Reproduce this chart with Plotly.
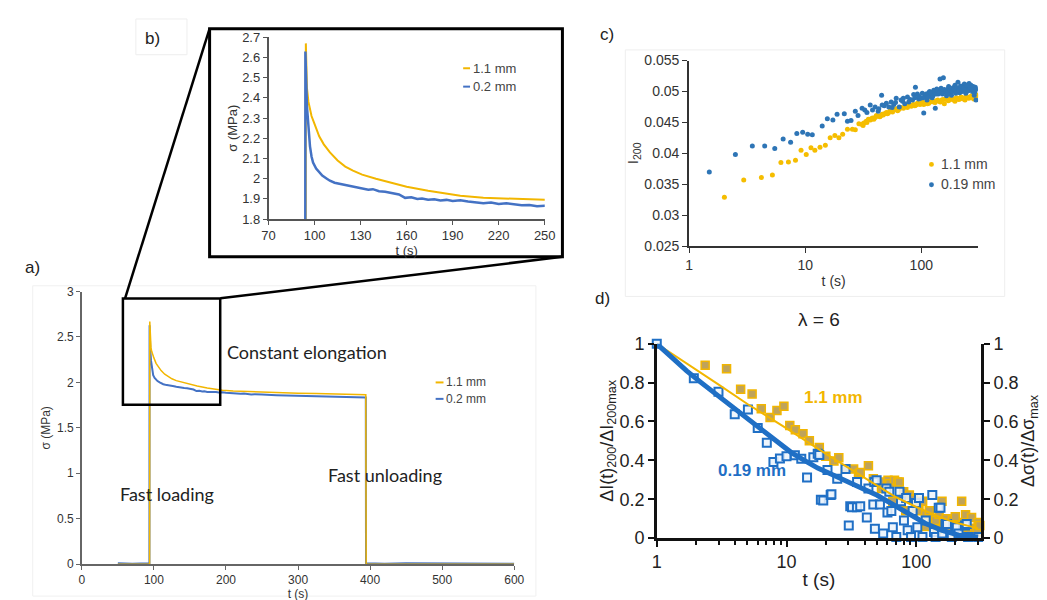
import plotly.graph_objects as go

W, H = 1047, 600

# ---------------- data ----------------
# a) / b) stress relaxation, sigma (MPa) vs t (s)
t_11mm = [50, 70, 94, 94.3, 95, 96, 97, 98, 100, 103, 106, 110, 115, 120, 125, 131, 140,
          152, 160, 174, 185, 195, 210, 225, 240, 250, 275, 300, 325, 350, 375, 394,
          394.5, 420, 450, 500, 550, 600]
s_11mm = [0, 0, 0, 2.67, 2.45, 2.38, 2.34, 2.31, 2.27, 2.21, 2.17, 2.13, 2.09, 2.06, 2.04,
          2.02, 2.0, 1.975, 1.96, 1.94, 1.925, 1.915, 1.905, 1.9, 1.895, 1.89, 1.885, 1.88,
          1.877, 1.873, 1.868, 1.865, 0, 0, 0, 0, 0, 0]

t_02mm = [50, 70, 93.8, 94, 95, 96, 97, 98, 99, 101, 103, 105, 108, 110, 113, 116, 120, 124,
          128, 131, 135, 138, 142, 146, 150, 152, 155, 159, 163, 167, 170, 174, 178, 182,
          186, 190, 195, 200, 205, 210, 215, 220, 225, 230, 235, 240, 245, 250, 270, 290,
          310, 330, 350, 370, 394, 394.3, 420, 450, 500, 550, 600]
s_02mm = [0.01, 0.005, 0.01, 2.63, 2.36, 2.24, 2.16, 2.11, 2.08, 2.05, 2.03, 2.015, 2.0,
          1.99, 1.98, 1.975, 1.972, 1.962, 1.958, 1.952, 1.945, 1.948, 1.938, 1.935, 1.93,
          1.928, 1.922, 1.905, 1.908, 1.9, 1.902, 1.896, 1.898, 1.892, 1.895, 1.89, 1.893,
          1.887, 1.884, 1.878, 1.882, 1.875, 1.878, 1.872, 1.868, 1.87, 1.864, 1.866, 1.86,
          1.857, 1.853, 1.85, 1.846, 1.842, 1.835, 0.01, 0.005, 0.01, 0.008, 0.01, 0.005]

# c) I200 vs t (s)
c_t_11 = [2.01, 2.95, 4.19, 5.21, 6.17, 7.16, 8.24, 9.2, 10.2, 11.2, 12.1, 13.4, 14.9, 16.4,
          18.0, 19.5, 21.0, 23.1, 25.5, 27.0, 29.0, 30.5, 32, 33.5, 35, 36.5, 38, 40, 42,
          44, 46, 48, 50, 52, 55, 58, 61, 64, 67, 70, 74, 78, 82, 86, 90, 95, 100, 105, 110,
          116, 122, 128, 135, 142, 150, 158, 166, 175, 185, 195, 205, 215, 226, 238, 250,
          263, 276, 290, 300,
          31.5, 34, 37, 39, 41, 45, 47, 51, 53.5, 56.5, 59.5, 62.5, 65.5, 72, 76, 80, 84, 88,
          92.5, 97.5, 102.5, 107.5, 113, 119, 125, 131.5, 138.5, 146, 154, 162, 170.5, 180,
          190, 200, 210, 220, 232, 244, 256, 270, 283, 295]
c_i_11 = [0.0329, 0.0357, 0.0361, 0.0365, 0.0385, 0.0386, 0.0389, 0.0405, 0.0398, 0.0409,
          0.0405, 0.0410, 0.0413, 0.0425, 0.0429, 0.0425, 0.0431, 0.0439, 0.0439, 0.0438,
          0.0448, 0.0447, 0.0449, 0.0452, 0.0455, 0.0454, 0.0457, 0.0458, 0.0460, 0.0459,
          0.0463, 0.0464, 0.0466, 0.0465, 0.0469, 0.0470, 0.0472, 0.0471, 0.0474, 0.0473,
          0.0476, 0.0477, 0.0476, 0.0479, 0.0478, 0.0480, 0.0481, 0.0479, 0.0482, 0.0481,
          0.0484, 0.0483, 0.0485, 0.0484, 0.0486, 0.0480, 0.0487, 0.0486, 0.0488, 0.0484,
          0.0489, 0.0488, 0.0490, 0.0486, 0.0491, 0.0490, 0.0492, 0.0491, 0.0493,
          0.0445, 0.0450, 0.0456, 0.0455, 0.0461, 0.0461, 0.0462, 0.0464, 0.0468, 0.0467,
          0.0471, 0.0469, 0.0473, 0.0475, 0.0474, 0.0478, 0.0478, 0.0477, 0.0481, 0.0479,
          0.0483, 0.0481, 0.0480, 0.0483, 0.0485, 0.0482, 0.0486, 0.0483, 0.0487, 0.0488,
          0.0485, 0.0489, 0.0486, 0.0490, 0.0487, 0.0491, 0.0488, 0.0492, 0.0489, 0.0493,
          0.0488, 0.0495]

c_t_019 = [1.49, 2.5, 3.5, 4.47, 5.46, 6.45, 7.48, 8.46, 9.5, 10.5, 11.5, 14.0, 15.5, 17.3,
           18.8, 21.7, 23.1, 24.8, 27.0, 28.5, 30.9, 32.6, 34.0, 36.3, 38.0, 40.0, 42.5,
           45.5, 48.0, 50.0, 52.5, 55.0, 58.0, 60.8, 64.6, 67.0, 69.0, 72.0, 76.0, 80.0,
           84.0, 86.0, 89.0, 92.5, 95.0, 98.6, 102, 105, 108, 112, 116, 120, 124, 128, 132,
           136, 140, 145, 150, 155, 160, 165, 170, 175, 182, 188, 195, 200, 207, 214, 221,
           228, 235, 242, 251, 258, 268, 276, 286, 292, 296,
           104, 110, 114, 118, 122, 126, 130, 134, 138, 143, 148, 152, 158, 163, 168, 172,
           178, 185, 192, 198, 204, 211, 218, 225, 232, 239, 246, 254, 262, 272, 280, 289,
           294, 60, 70, 78, 88, 96, 56, 46, 43]
c_i_019 = [0.0370, 0.0398, 0.0412, 0.0412, 0.0408, 0.0423, 0.0418, 0.0432, 0.0434, 0.0431,
           0.0430, 0.0444, 0.0456, 0.0454, 0.0463, 0.0464, 0.0452, 0.0453, 0.0468, 0.0461,
           0.0473, 0.0470, 0.0466, 0.0478, 0.0470, 0.0475, 0.0468, 0.0494, 0.0477, 0.0481,
           0.0475, 0.0483, 0.0479, 0.0489, 0.0475, 0.0486, 0.0484, 0.0480, 0.0491, 0.0487,
           0.0486, 0.0495, 0.0507, 0.0496, 0.0488, 0.0489, 0.0497, 0.0465, 0.0492, 0.0486,
           0.0498, 0.0494, 0.0490, 0.0502, 0.0473, 0.0504, 0.0496, 0.0520, 0.0500, 0.0522,
           0.0499, 0.0493, 0.0504, 0.0497, 0.0494, 0.0506, 0.0510, 0.0500, 0.0515, 0.0498,
           0.0502, 0.0508, 0.0512, 0.0497, 0.0504, 0.0513, 0.0510, 0.0500, 0.0494, 0.0507,
           0.0486,
           0.0490, 0.0496, 0.0491, 0.0500, 0.0497, 0.0493, 0.0499, 0.0496, 0.0501, 0.0498,
           0.0505, 0.0496, 0.0503, 0.0500, 0.0497, 0.0508, 0.0502, 0.0500, 0.0504, 0.0497,
           0.0506, 0.0502, 0.0509, 0.0500, 0.0506, 0.0503, 0.0510, 0.0501, 0.0506, 0.0503,
           0.0508, 0.0499, 0.0503, 0.0482, 0.0489, 0.0483, 0.0490, 0.0492, 0.0474, 0.0478,
           0.0472]

# d) normalised I200 (squares) and normalised stress (lines)
d_t_11 = [2.36, 3.45, 4.43, 5.43, 6.39, 7.47, 8.44, 9.55, 10.6, 11.7, 13.4, 15.0, 17.9, 20.1,
          23.2, 25.3, 28.5, 32.9, 35.9, 37.0, 42.8, 46.7, 49.5, 52.5, 54, 60.6, 62.4, 66,
          68, 72, 74, 80, 83, 88.5, 95, 100, 105, 112, 118, 120, 126, 132, 141, 145, 150,
          158, 165, 170, 178, 190, 200, 205, 213, 224, 235, 240, 250, 260, 267, 282, 295,
          300, 309]
d_r_11 = [0.889, 0.872, 0.766, 0.741, 0.665, 0.620, 0.657, 0.678, 0.579, 0.557, 0.537, 0.501,
          0.466, 0.421, 0.397, 0.413, 0.355, 0.355, 0.330, 0.338, 0.372, 0.305, 0.289, 0.289,
          0.255, 0.297, 0.280, 0.189, 0.297, 0.289, 0.289, 0.239, 0.14, 0.222, 0.2, 0.156,
          0.14, 0.189, 0.12, 0.06, 0.14, 0.1, 0.09, 0.045, 0.123, 0.189, 0.07, 0.1, 0.056,
          0.09, 0.11, 0.03, 0.065, 0.189, 0.08, 0.12, 0.04, 0.02, 0.106, 0.05, 0.03, 0.08,
          0.065]

d_t_019 = [1, 1.93, 2.99, 3.99, 5.04, 6.0, 7.05, 7.93, 8.9, 10, 11.6, 13, 14.4, 16.1, 17.4,
           17.9, 18.4, 19.2, 20.7, 21.9, 22.2, 24.6, 28.5, 30.2, 31, 32, 34.9, 35, 37, 41.6,
           42.8, 46.7, 47.5, 48, 49.5, 52.5, 55.6, 58.9, 60, 62, 64.3, 66, 70.2, 74.3, 76.3,
           80.4, 83.6, 85.9, 91.2, 93.8, 99.5, 102, 105, 111.7, 118.3, 133, 137, 141, 149,
           153.8, 158.5, 168, 172.7, 188, 199.5, 205.6, 211.8, 237.7, 245, 251, 300]
d_r_019 = [1.0, 0.822, 0.753, 0.637, 0.662, 0.567, 0.491, 0.391, 0.41, 0.421, 0.426, 0.408,
           0.312, 0.416, 0.434, 0.428, 0.197, 0.194, 0.35, 0.222, 0.225, 0.305, 0.355, 0.065,
           0.164, 0.159, 0.159, 0.289, 0.164, 0.106, 0.255, 0.173, 0.289, 0.048, 0.297,
           0.173, 0.023, 0.255, 0.131, 0.239, 0.139, 0.056, 0.006, 0.239, 0.189, 0.09, 0.206,
           0.04, 0.006, 0.139, 0.181, 0.056, 0.206, 0.006, 0.09, 0.222, 0.031, 0.006, 0.156,
           0.156, 0.023, 0.073, 0.073, 0.006, 0.056, 0.056, 0.023, 0.065, 0.073, 0.006, 0.006]

d_ts_11 = [1, 2, 3, 5, 10, 20, 30, 50, 70, 100, 150, 200, 300]
d_s_11 = [1.0, 0.87, 0.79, 0.69, 0.565, 0.435, 0.36, 0.27, 0.21, 0.16, 0.11, 0.08, 0.05]

d_ts_019 = [1, 1.3, 1.7, 2.2, 3.0, 4.0, 5.4, 7.7, 10.9, 14.6, 17.4, 22, 28, 37, 50, 66, 88,
            118, 158, 212, 300]
d_s_019 = [1.0, 0.93, 0.86, 0.80, 0.73, 0.67, 0.60, 0.515, 0.44, 0.39, 0.36, 0.33, 0.30,
           0.26, 0.22, 0.175, 0.125, 0.075, 0.04, 0.015, 0.006]

GOLD = "#f2b600"
BLUE_AB = "#4472c4"
BLUE_C = "#2e75b6"
BLUE_D = "#1f6fc5"
ARIAL = "Liberation Sans, Arial, sans-serif"
CALIBRI = "Lato, Open Sans, sans-serif"


def px(x):
    return x / W


def py(y):
    return 1 - y / H


fig = go.Figure()

# a)
fig.add_trace(go.Scatter(x=t_02mm, y=s_02mm, mode="lines", line=dict(color=BLUE_AB, width=2),
                         xaxis="x", yaxis="y"))
fig.add_trace(go.Scatter(x=t_11mm, y=s_11mm, mode="lines", line=dict(color=GOLD, width=1.5),
                         xaxis="x", yaxis="y"))
# b)
fig.add_trace(go.Scatter(x=t_11mm, y=s_11mm, mode="lines", line=dict(color=GOLD, width=2),
                         xaxis="x2", yaxis="y2"))
fig.add_trace(go.Scatter(x=t_02mm, y=s_02mm, mode="lines", line=dict(color=BLUE_AB, width=2.5),
                         xaxis="x2", yaxis="y2"))
# c)
fig.add_trace(go.Scatter(x=c_t_11, y=c_i_11, mode="markers",
                         marker=dict(color="#f5bd00", size=5), xaxis="x3", yaxis="y3"))
fig.add_trace(go.Scatter(x=c_t_019, y=c_i_019, mode="markers",
                         marker=dict(color=BLUE_C, size=5), xaxis="x3", yaxis="y3"))
# d)
fig.add_trace(go.Scatter(x=d_t_11, y=d_r_11, mode="markers", cliponaxis=False,
                         marker=dict(symbol="square", size=8, color="#bfa35a",
                                     line=dict(color="#f2b600", width=1.5)),
                         xaxis="x4", yaxis="y4"))
fig.add_trace(go.Scatter(x=d_ts_11, y=d_s_11, mode="lines", line=dict(color=GOLD, width=2),
                         xaxis="x4", yaxis="y5"))
fig.add_trace(go.Scatter(x=d_ts_019, y=d_s_019, mode="lines", line=dict(color=BLUE_D, width=5),
                         xaxis="x4", yaxis="y5"))
fig.add_trace(go.Scatter(x=d_t_019, y=d_r_019, mode="markers", cliponaxis=False,
                         marker=dict(symbol="square", size=8, color="rgba(235,243,252,0.85)",
                                     line=dict(color=BLUE_D, width=2)),
                         xaxis="x4", yaxis="y4"))

ax_common = dict(showline=True, ticks="outside", showgrid=False, zeroline=False)

fig.update_layout(
    width=W, height=H, margin=dict(l=0, r=0, t=0, b=0),
    paper_bgcolor="white", plot_bgcolor="rgba(0,0,0,0)", showlegend=False,
    font=dict(family=ARIAL, color="#333"),
    # a)
    xaxis=dict(ax_common, domain=[px(68), px(508)], range=[0, 600], dtick=100, anchor="y",
               linecolor="#666", linewidth=1.5, tickcolor="#666", ticklen=4,
               tickfont=dict(size=12), title=dict(text="t (s)", font=dict(size=12), standoff=0)),
    yaxis=dict(ax_common, domain=[py(565), py(283)], range=[0, 3], dtick=0.5, anchor="x",
               linecolor="#666", linewidth=1.5, tickcolor="#666", ticklen=4,
               tickfont=dict(size=12), title=dict(text="σ (MPa)", font=dict(size=12), standoff=4)),
    # b)
    xaxis2=dict(ax_common, domain=[px(258), px(539)], range=[70, 250], tick0=70, dtick=30,
                anchor="y2", linecolor="#555", linewidth=1.5, tickcolor="#555", ticklen=4,
                tickfont=dict(size=13), title=dict(text="t (s)", font=dict(size=13), standoff=0)),
    yaxis2=dict(ax_common, domain=[py(208), py(20)], range=[1.8, 2.7], dtick=0.1, anchor="x2",
                linecolor="#555", linewidth=1.5, tickcolor="#555", ticklen=4,
                tickfont=dict(size=13), title=dict(text="σ (MPa)", font=dict(size=13), standoff=2)),
    # c)
    xaxis3=dict(ax_common, type="log", domain=[px(686), px(980)], range=[0, 2.49],
                tickvals=[1, 10, 100], ticktext=["1", "10", "100"], anchor="y3",
                linecolor="#333", linewidth=2, tickcolor="#333", ticklen=5,
                tickfont=dict(size=14), title=dict(text="t (s)", font=dict(size=14), standoff=4)),
    yaxis3=dict(ax_common, domain=[py(236), py(44)], range=[0.025, 0.055],
                tickvals=[0.025, 0.03, 0.035, 0.04, 0.045, 0.05, 0.055],
                ticktext=["0.025", "0.03", "0.035", "0.04", "0.045", "0.05", "0.055"],
                anchor="x3", linecolor="#333", linewidth=2, tickcolor="#333", ticklen=5,
                tickfont=dict(size=14),
                title=dict(text="I<sub>200</sub>", font=dict(size=15), standoff=2)),
    # d)
    xaxis4=dict(ax_common, type="log", domain=[px(653), px(983)], range=[0, 2.5],
                tickvals=[1, 10, 100], ticktext=["1", "10", "100"], anchor="y4",
                linecolor="#111", linewidth=2.5, tickcolor="#111", ticklen=6, tickwidth=2,
                minor=dict(ticks="outside", ticklen=4, tickcolor="#111",
                           tickvals=[2, 3, 4, 5, 6, 7, 8, 9, 20, 30, 40, 50, 60, 70, 80, 90, 200, 300]),
                tickfont=dict(size=18, color="#222"),
                title=dict(text="t (s)", font=dict(size=19, color="#222"), standoff=2)),
    yaxis4=dict(ax_common, domain=[py(538), py(337)], range=[0, 1], dtick=0.2, anchor="x4",
                linecolor="#111", linewidth=2.5, tickcolor="#111", ticklen=6, tickwidth=2,
                tickfont=dict(size=18, color="#222"),
                title=dict(text="ΔI(t)<sub>200</sub>/ΔI<sub>200max</sub>",
                           font=dict(size=18, color="#222"), standoff=0)),
    yaxis5=dict(ax_common, overlaying="y4", side="right", range=[0, 1], dtick=0.2,
                anchor="x4", linecolor="#111", linewidth=2.5, tickcolor="#111", ticklen=6,
                tickwidth=2, tickfont=dict(size=18, color="#222"),
                title=dict(text="Δσ(t)/Δσ<sub>max</sub>", font=dict(size=18, color="#222"),
                           standoff=2)),
)

shapes = [
    # faint panel frames
    dict(type="rect", xref="paper", yref="paper", x0=px(18), x1=px(530), y0=py(598), y1=py(277),
         line=dict(color="#f0f0f0", width=1)),
    dict(type="rect", xref="paper", yref="paper", x0=px(621), x1=px(1007), y0=py(288), y1=py(33),
         line=dict(color="#eeeeee", width=1)),
    dict(type="rect", xref="paper", yref="paper", x0=px(123), x1=px(175), y0=py(38), y1=py(1),
         line=dict(color="#eeeeee", width=1)),
    # zoom box in a)
    dict(type="rect", xref="x", yref="y", x0=57, x1=192, y0=1.755, y1=2.925,
         line=dict(color="black", width=2.5)),
    # inset frame b)
    dict(type="rect", xref="paper", yref="paper", x0=px(198), x1=px(557), y0=py(247), y1=py(11),
         line=dict(color="black", width=3)),
    dict(type="line", xref="paper", yref="paper", x0=px(112), y0=py(290), x1=px(198), y1=py(11),
         line=dict(color="black", width=2.5)),
    dict(type="line", xref="paper", yref="paper", x0=px(209), y0=py(290), x1=px(557), y1=py(247),
         line=dict(color="black", width=2.5)),
    # legend keys
    dict(type="line", xref="paper", yref="paper", x0=px(428), x1=px(436), y0=py(377), y1=py(377),
         line=dict(color=GOLD, width=2)),
    dict(type="line", xref="paper", yref="paper", x0=px(428), x1=px(436), y0=py(394), y1=py(394),
         line=dict(color=BLUE_AB, width=2)),
    dict(type="line", xref="paper", yref="paper", x0=px(456), x1=px(463), y0=py(52), y1=py(52),
         line=dict(color=GOLD, width=2)),
    dict(type="line", xref="paper", yref="paper", x0=px(456), x1=px(463), y0=py(71), y1=py(71),
         line=dict(color=BLUE_AB, width=2)),
    dict(type="circle", xref="paper", yref="paper", x0=px(930), x1=px(935), y0=py(149), y1=py(154),
         fillcolor="#f5bd00", line=dict(width=0)),
    dict(type="circle", xref="paper", yref="paper", x0=px(930), x1=px(935), y0=py(170), y1=py(175),
         fillcolor=BLUE_C, line=dict(width=0)),
]
fig.update_layout(shapes=shapes)


def note(x, y, text, size, color="#222", family=ARIAL, xanchor="left", bold=False):
    if bold:
        text = "<b>" + text + "</b>"
    fig.add_annotation(x=px(x), y=py(y), xref="paper", yref="paper", text=text, showarrow=False,
                       xanchor=xanchor, yanchor="middle",
                       font=dict(size=size, color=color, family=family))


note(8, 258, "a)", 17)
note(130, 21, "b)", 17)
note(593, 17, "c)", 17)
note(588, 290, "d)", 17)

note(214, 346, "Constant elongation", 18, "#222", CALIBRI)
note(105, 492, "Fast loading", 18, "#222", CALIBRI)
note(316, 473, "Fast unloading", 18, "#222", CALIBRI)

note(437, 377, "1.1 mm", 12, "#444")
note(437, 394, "0.2 mm", 12, "#444")
note(464, 52, "1.1 mm", 13, "#444")
note(464, 71, "0.2 mm", 13, "#444")
note(940, 151, "1.1 mm", 14, "#444")
note(940, 172, "0.19 mm", 14, "#444")

note(818, 312, "λ = 6", 19, "#222", xanchor="center")
note(833, 393, "1.1 mm", 17, "#f2b600", xanchor="center", bold=True)
note(750, 468, "0.19 mm", 17, BLUE_D, xanchor="center", bold=True)

fig.write_html("out.html")
